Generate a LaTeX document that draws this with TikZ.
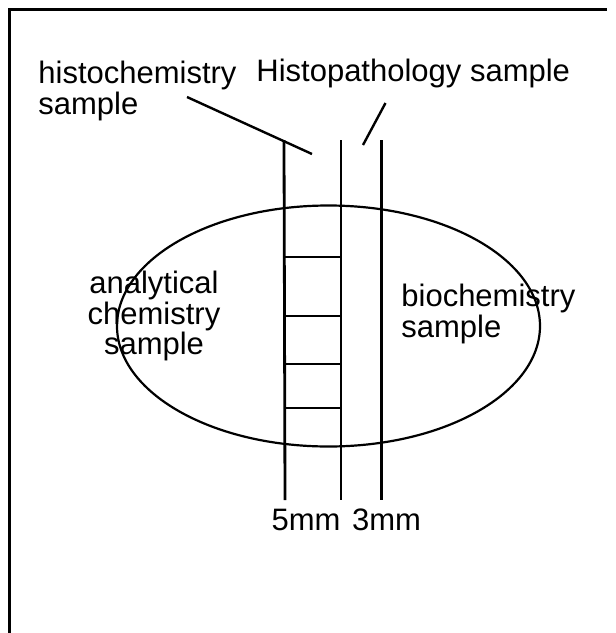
\documentclass[tikz,border=0pt]{standalone}
\usepackage{fontspec}
\setmainfont{Liberation Sans}
\usepackage{tikz}
\usetikzlibrary{positioning}
\tikzset{
  frame/.style  = {line width=1.5pt},
  rod/.style    = {line width=1.4pt},
  rung/.style   = {line width=1.1pt},
  leader/.style = {line width=1.2pt},
  organ/.style  = {line width=1.1pt},
  lbl/.style    = {inner sep=0pt,font=\fontsize{15.5}{13}\selectfont},
}

\begin{document}
\begin{tikzpicture}[x=0.5pt,y=-0.5pt]
  \useasboundingbox (0,0) rectangle (616,633);
  % frame
  \draw[frame] (9,633) -- (9,9) -- (607,9);
  % organ
  \draw[organ] (328.5,326) ellipse [x radius=211.5, y radius=120.5];
  % strips
  \coordinate (aT) at (284,140); \coordinate (aB) at (285,500);
  \coordinate (bT) at (341,140); \coordinate (bB) at (341,500);
  \coordinate (cT) at (381.5,140); \coordinate (cB) at (381.5,500);
  \draw[rod] (aT) -- (aB);
  \draw[rod] (bT) -- (bB);
  \draw[rod] (cT) -- (cB);
  \foreach \y in {257,316,364,408}{
    \draw[rung] (284.5,\y) -- (341,\y);
  }
  % labels
  \node[lbl,anchor=west,align=left,font=\fontsize{15.5}{15.5}\selectfont]
       (histo) at (38,91) {histochemistry\\sample};
  \node[lbl,anchor=base west] (patho) at (256,81) {Histopathology sample};
  \node[lbl,anchor=center,align=center] (anal) at (154,316)
       {analytical\\chemistry\\sample};
  \node[lbl,anchor=west,align=left,font=\fontsize{15.5}{13.5}\selectfont]
       (bio) at (401,314) {biochemistry\\sample};
  \node[lbl,anchor=base] (w5) at (306,530) {5mm};
  \node[lbl,anchor=base] (w3) at (386.5,530) {3mm};
  % leaders
  \coordinate (histoA) at (187,97);  \coordinate (histoB) at (312,154);
  \coordinate (pathoA) at (385.5,103); \coordinate (pathoB) at (363,145);
  \draw[leader] (histoA) -- (histoB);
  \draw[leader] (pathoA) -- (pathoB);
\end{tikzpicture}
\end{document}
